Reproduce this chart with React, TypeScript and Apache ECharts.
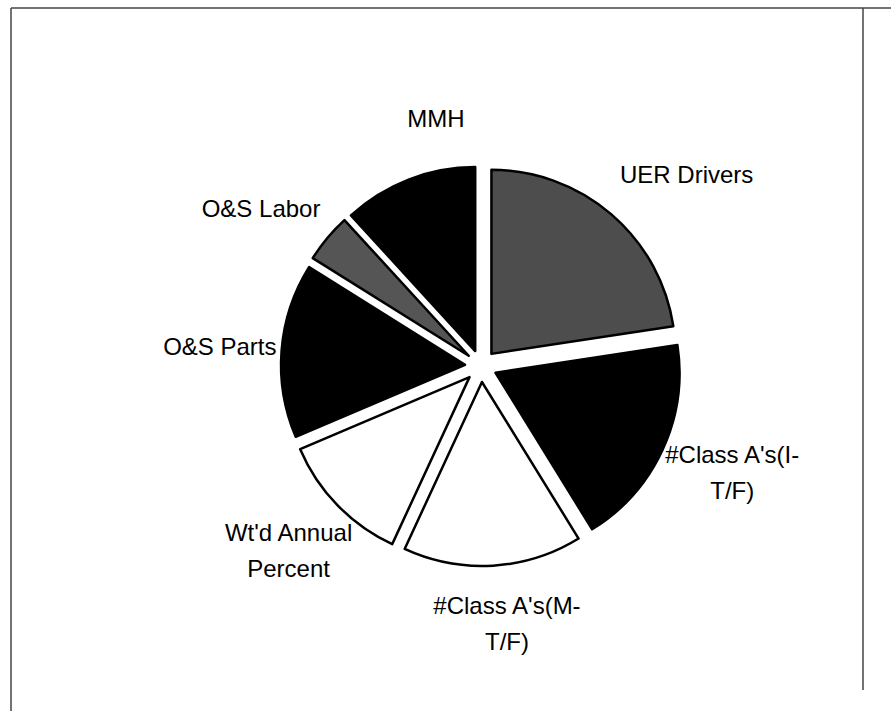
import React, { useEffect, useRef } from "react";
import * as echarts from "echarts";

// Slices clockwise from 12 o'clock
const categories = [
  "UER Drivers",
  "#Class A's(I-T/F)",
  "#Class A's(M-T/F)",
  "Wt'd Annual Percent",
  "O&S Parts",
  "O&S Labor",
  "MMH",
];
const labelTexts = [
  "UER Drivers",
  "#Class A's(I-\nT/F)",
  "#Class A's(M-\nT/F)",
  "Wt'd Annual\nPercent",
  "O&S Parts",
  "O&S Labor",
  "MMH",
];
const values = [22.6, 18.6, 15.7, 11.7, 15.3, 4.3, 11.8];

const fills = ["#4d4d4d", "#000000", "#ffffff", "#ffffff", "#000000", "#555555", "#000000"];
const labelNudges: [number, number][] = [
  [31, 12],
  [8, -6],
  [10, -10],
  [0, -2],
  [6, 2],
  [-14, 14],
  [52, 2],
];

const FONT = "'Liberation Sans', Arial, Helvetica, sans-serif";

export default function App() {
  const ref = useRef<HTMLDivElement>(null);
  useEffect(() => {
    if (!ref.current) return;
    const chart = echarts.init(ref.current, null, { renderer: "svg" });
    const center = [481, 366];
    const mainData = categories.map((name, i) => {
      const st = { color: fills[i], borderColor: "#000", borderWidth: 2.5 };
      return { name, value: values[i], selected: true, itemStyle: st, select: { itemStyle: st } };
    });
    const labelData = categories.map((name, i) => ({
      name,
      value: values[i],
      label: { formatter: () => labelTexts[i], offset: labelNudges[i] },
    }));
    chart.setOption({
      animation: false,
      backgroundColor: "#ffffff",
      graphic: [
        { type: "line", shape: { x1: 11, y1: 8, x2: 891, y2: 8 }, style: { stroke: "#444", lineWidth: 1.5 } },
        { type: "line", shape: { x1: 11, y1: 8, x2: 11, y2: 711 }, style: { stroke: "#444", lineWidth: 1.5 } },
        { type: "line", shape: { x1: 863, y1: 8, x2: 863, y2: 690 }, style: { stroke: "#444", lineWidth: 1.5 } },
      ],
      series: [
        {
          type: "pie",
          center,
          radius: [0, 184],
          startAngle: 90,
          clockwise: true,
          selectedMode: "multiple",
          selectedOffset: 16,
          label: { show: false },
          labelLine: { show: false },
          emphasis: { disabled: true },
          data: mainData,
        },
        {
          type: "pie",
          center,
          radius: [258, 272],
          startAngle: 90,
          clockwise: true,
          silent: true,
          itemStyle: { color: "rgba(0,0,0,0)", borderWidth: 0 },
          label: {
            show: true,
            position: "inside",
            color: "#000",
            fontSize: 24,
            fontFamily: FONT,
            lineHeight: 36,
            align: "center",
          },
          labelLine: { show: false },
          emphasis: { disabled: true },
          data: labelData,
        },
      ],
    });
    return () => chart.dispose();
  }, []);
  return (
    <div
      ref={ref}
      style={{ position: "fixed", left: 0, top: 0, width: 891, height: 711 }}
    />
  );
}
